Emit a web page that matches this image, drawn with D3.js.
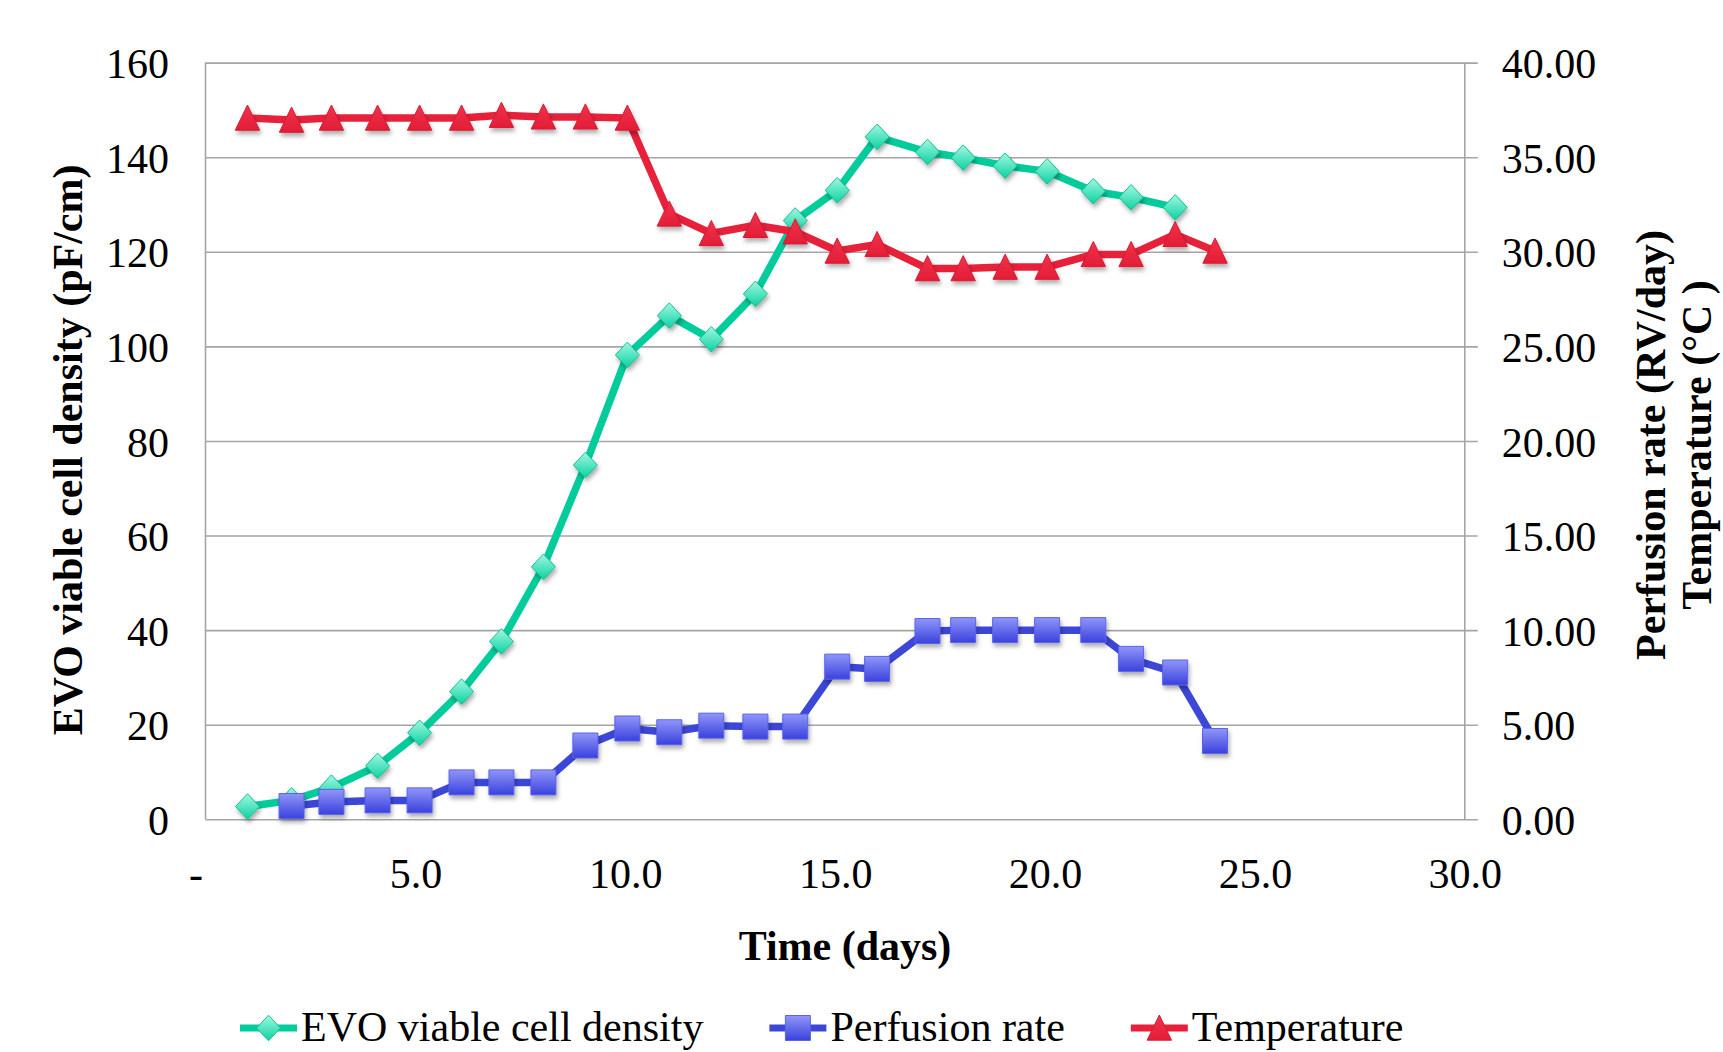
<!DOCTYPE html>
<html>
<head>
<meta charset="utf-8">
<script src="https://cdn.jsdelivr.net/npm/d3@7"></script>
<style>
  html, body { margin: 0; padding: 0; background: #ffffff; }
  svg { display: block; }
  text { font-family: "Liberation Serif", "Times New Roman", serif; fill: #000; }
</style>
</head>
<body>
<svg id="chart" width="1723" height="1052"></svg>
<script>
// Culture time (days) for each sample
const days = [1.0, 2.05, 3.0, 4.1, 5.1, 6.1, 7.05, 8.05, 9.05, 10.05, 11.05, 12.05,
              13.1, 14.05, 15.05, 16.0, 17.2, 18.05, 19.05, 20.05, 21.15, 22.05, 23.1, 24.05];

// EVO viable cell density (pF/cm) — left axis
const density = [2.7, 4.0, 6.7, 11.3, 18.3, 27.0, 37.6, 53.4, 74.9, 98.2, 106.5, 101.5,
                 111.1, 126.6, 133.0, 144.3, 141.1, 139.9, 138.2, 137.0, 132.8, 131.5, 129.4, null];

// Perfusion rate (RV/day) — right axis
const perfusion = [null, 0.70, 0.92, 1.0, 1.0, 1.95, 1.95, 1.95, 3.9, 4.8, 4.6, 4.95,
                   4.9, 4.9, 8.07, 7.95, 9.95, 10.0, 10.0, 10.0, 10.0, 8.48, 7.76, 4.14];

// Temperature (°C) — right axis
const temperature = [37.07, 36.96, 37.07, 37.07, 37.07, 37.07, 37.22, 37.13, 37.13, 37.07, 32.0, 30.97,
                     31.4, 31.06, 30.04, 30.39, 29.11, 29.11, 29.19, 29.19, 29.86, 29.86, 30.92, 30.04];

const xTicks = [0, 5, 10, 15, 20, 25, 30];
const leftTicks = [0, 20, 40, 60, 80, 100, 120, 140, 160];
const rightTicks = [0, 5, 10, 15, 20, 25, 30, 35, 40];

const seriesNames = ["EVO viable cell density", "Perfusion rate", "Temperature"];
const xTitle = "Time (days)";
const leftTitle = "EVO viable cell density (pF/cm)";
const rightTitleLines = ["Perfusion rate (RV/day)", "Temperature (°C )"];

// ---- layout ----
const plot = { left: 205.5, right: 1464.8, top: 62.6, bottom: 819.3 };
const FONT = 42;
const gridColor = "#a5a5a5";

const svg = d3.select("#chart");
svg.append("rect").attr("width", 1723).attr("height", 1052).attr("fill", "#fff");

const x = d3.scaleLinear().domain([0, 30]).range([plot.left, plot.right]);
const yL = d3.scaleLinear().domain([0, 160]).range([plot.bottom, plot.top]);
const yR = d3.scaleLinear().domain([0, 40]).range([plot.bottom, plot.top]);

// ---- defs: marker gradients and soft shadow ----
const defs = svg.append("defs");
const shadow = defs.append("filter").attr("id", "shadow")
  .attr("x", "-50%").attr("y", "-50%").attr("width", "200%").attr("height", "200%");
shadow.append("feDropShadow").attr("dx", 1.5).attr("dy", 3.5).attr("stdDeviation", 2)
  .attr("flood-color", "#000").attr("flood-opacity", 0.32);

function vGrad(id, top, bottom) {
  const g = defs.append("linearGradient").attr("id", id)
    .attr("x1", 0).attr("y1", 0).attr("x2", 0).attr("y2", 1);
  g.append("stop").attr("offset", "0%").attr("stop-color", top);
  g.append("stop").attr("offset", "100%").attr("stop-color", bottom);
}
vGrad("gradGreen", "#a2f8e2", "#0ad2a1");
vGrad("gradBlue", "#9096f8", "#3a41de");
vGrad("gradRed", "#f0334b", "#e31d37");

// ---- gridlines (extend past right axis as outward ticks) ----
const grid = svg.append("g").attr("transform", `translate(${plot.left},0)`)
  .call(d3.axisLeft(yL).tickValues(leftTicks).tickSize(-(plot.right - plot.left + 13)).tickFormat(""));
grid.select(".domain").remove();
grid.selectAll(".tick line").attr("stroke", gridColor).attr("stroke-width", 1.6);

// vertical axis lines
svg.append("line").attr("x1", plot.left).attr("x2", plot.left)
  .attr("y1", plot.top).attr("y2", plot.bottom).attr("stroke", gridColor).attr("stroke-width", 1.6);
svg.append("line").attr("x1", plot.right).attr("x2", plot.right)
  .attr("y1", plot.top).attr("y2", plot.bottom).attr("stroke", gridColor).attr("stroke-width", 1.6);

// ---- tick labels ----
const leftAxis = svg.append("g").attr("transform", `translate(${plot.left},0)`)
  .call(d3.axisLeft(yL).tickValues(leftTicks).tickSize(0).tickPadding(36.5).tickFormat(d3.format("d")));
leftAxis.select(".domain").remove();
leftAxis.selectAll("text").attr("font-size", FONT).attr("font-family", null).attr("dy", "0.36em");

const rightAxis = svg.append("g").attr("transform", `translate(${plot.right},0)`)
  .call(d3.axisRight(yR).tickValues(rightTicks).tickSize(0).tickPadding(37).tickFormat(d3.format(".2f")));
rightAxis.select(".domain").remove();
rightAxis.selectAll("text").attr("font-size", FONT).attr("font-family", null).attr("dy", "0.36em");

const bottomAxis = svg.append("g").attr("transform", `translate(0,${plot.bottom})`)
  .call(d3.axisBottom(x).tickValues(xTicks).tickSize(0).tickPadding(38.5)
    .tickFormat(d => d === 0 ? "-" : d3.format(".1f")(d)));
bottomAxis.select(".domain").remove();
bottomAxis.selectAll("text").attr("font-size", FONT).attr("font-family", null)
  .attr("dx", d => d === 0 ? -10 : 0);

// ---- axis titles ----
svg.append("text").attr("x", 845).attr("y", 960).attr("text-anchor", "middle")
  .attr("font-size", FONT).attr("font-weight", "bold").text(xTitle);

svg.append("text")
  .attr("transform", `translate(82,${(plot.top + plot.bottom) / 2 + 9}) rotate(-90)`)
  .attr("text-anchor", "middle").attr("font-size", FONT).attr("font-weight", "bold")
  .text(leftTitle);

const rt = svg.append("text")
  .attr("transform", `translate(1665,${(plot.top + plot.bottom) / 2 + 4}) rotate(-90)`)
  .attr("text-anchor", "middle").attr("font-size", FONT).attr("font-weight", "bold");
rightTitleLines.forEach((t, i) => {
  rt.append("tspan").attr("x", 0).attr("dy", i === 0 ? 0 : 46).text(t);
});

// ---- series ----
const markerPaths = {
  diamond: "M0,-12.8L12,0L0,12.8L-12,0Z",
  square: "M-12.5,-12.5H12.5V12.5H-12.5Z",
  triangle: "M0,-13L12.2,12.2L-12.2,12.2Z"
};

const series = [
  { name: seriesNames[0], values: density, y: yL, color: "#03cc9c", width: 7.5,
    marker: markerPaths.diamond, fill: "url(#gradGreen)", stroke: "#14bf91" },
  { name: seriesNames[1], values: perfusion, y: yR, color: "#3c47d8", width: 7.5,
    marker: markerPaths.square, fill: "url(#gradBlue)", stroke: "#5a63ea" },
  { name: seriesNames[2], values: temperature, y: yR, color: "#e8213b", width: 7.5,
    marker: markerPaths.triangle, fill: "url(#gradRed)", stroke: "#d81a33" }
];

series.forEach(s => {
  const pts = days.map((d, i) => ({ day: d, v: s.values[i] })).filter(p => p.v != null);
  const line = d3.line().x(p => x(p.day)).y(p => s.y(p.v));
  const g = svg.append("g");
  g.append("path").datum(pts).attr("d", line)
    .attr("fill", "none").attr("stroke", s.color).attr("stroke-width", s.width)
    .attr("stroke-linejoin", "round").attr("stroke-linecap", "butt");
  g.selectAll("path.mk").data(pts).join("path").attr("class", "mk")
    .attr("d", s.marker)
    .attr("transform", p => `translate(${x(p.day)},${s.y(p.v)})`)
    .attr("fill", s.fill).attr("stroke", s.stroke).attr("stroke-width", 1)
    .attr("filter", "url(#shadow)");
});

// ---- legend ----
const legend = svg.append("g");
const legendY = 1028;
let lx = 240;
series.forEach(s => {
  const item = legend.append("g");
  item.append("line").attr("x1", lx).attr("x2", lx + 57).attr("y1", legendY).attr("y2", legendY)
    .attr("stroke", s.color).attr("stroke-width", 7);
  item.append("path").attr("d", s.marker)
    .attr("transform", `translate(${lx + 28.5},${legendY})`)
    .attr("fill", s.fill).attr("stroke", s.stroke).attr("stroke-width", 1);
  const t = item.append("text").attr("x", lx + 61).attr("y", 1041)
    .attr("font-size", FONT).text(s.name);
  lx = lx + 61 + t.node().getComputedTextLength() + 66;
});
</script>
</body>
</html>
